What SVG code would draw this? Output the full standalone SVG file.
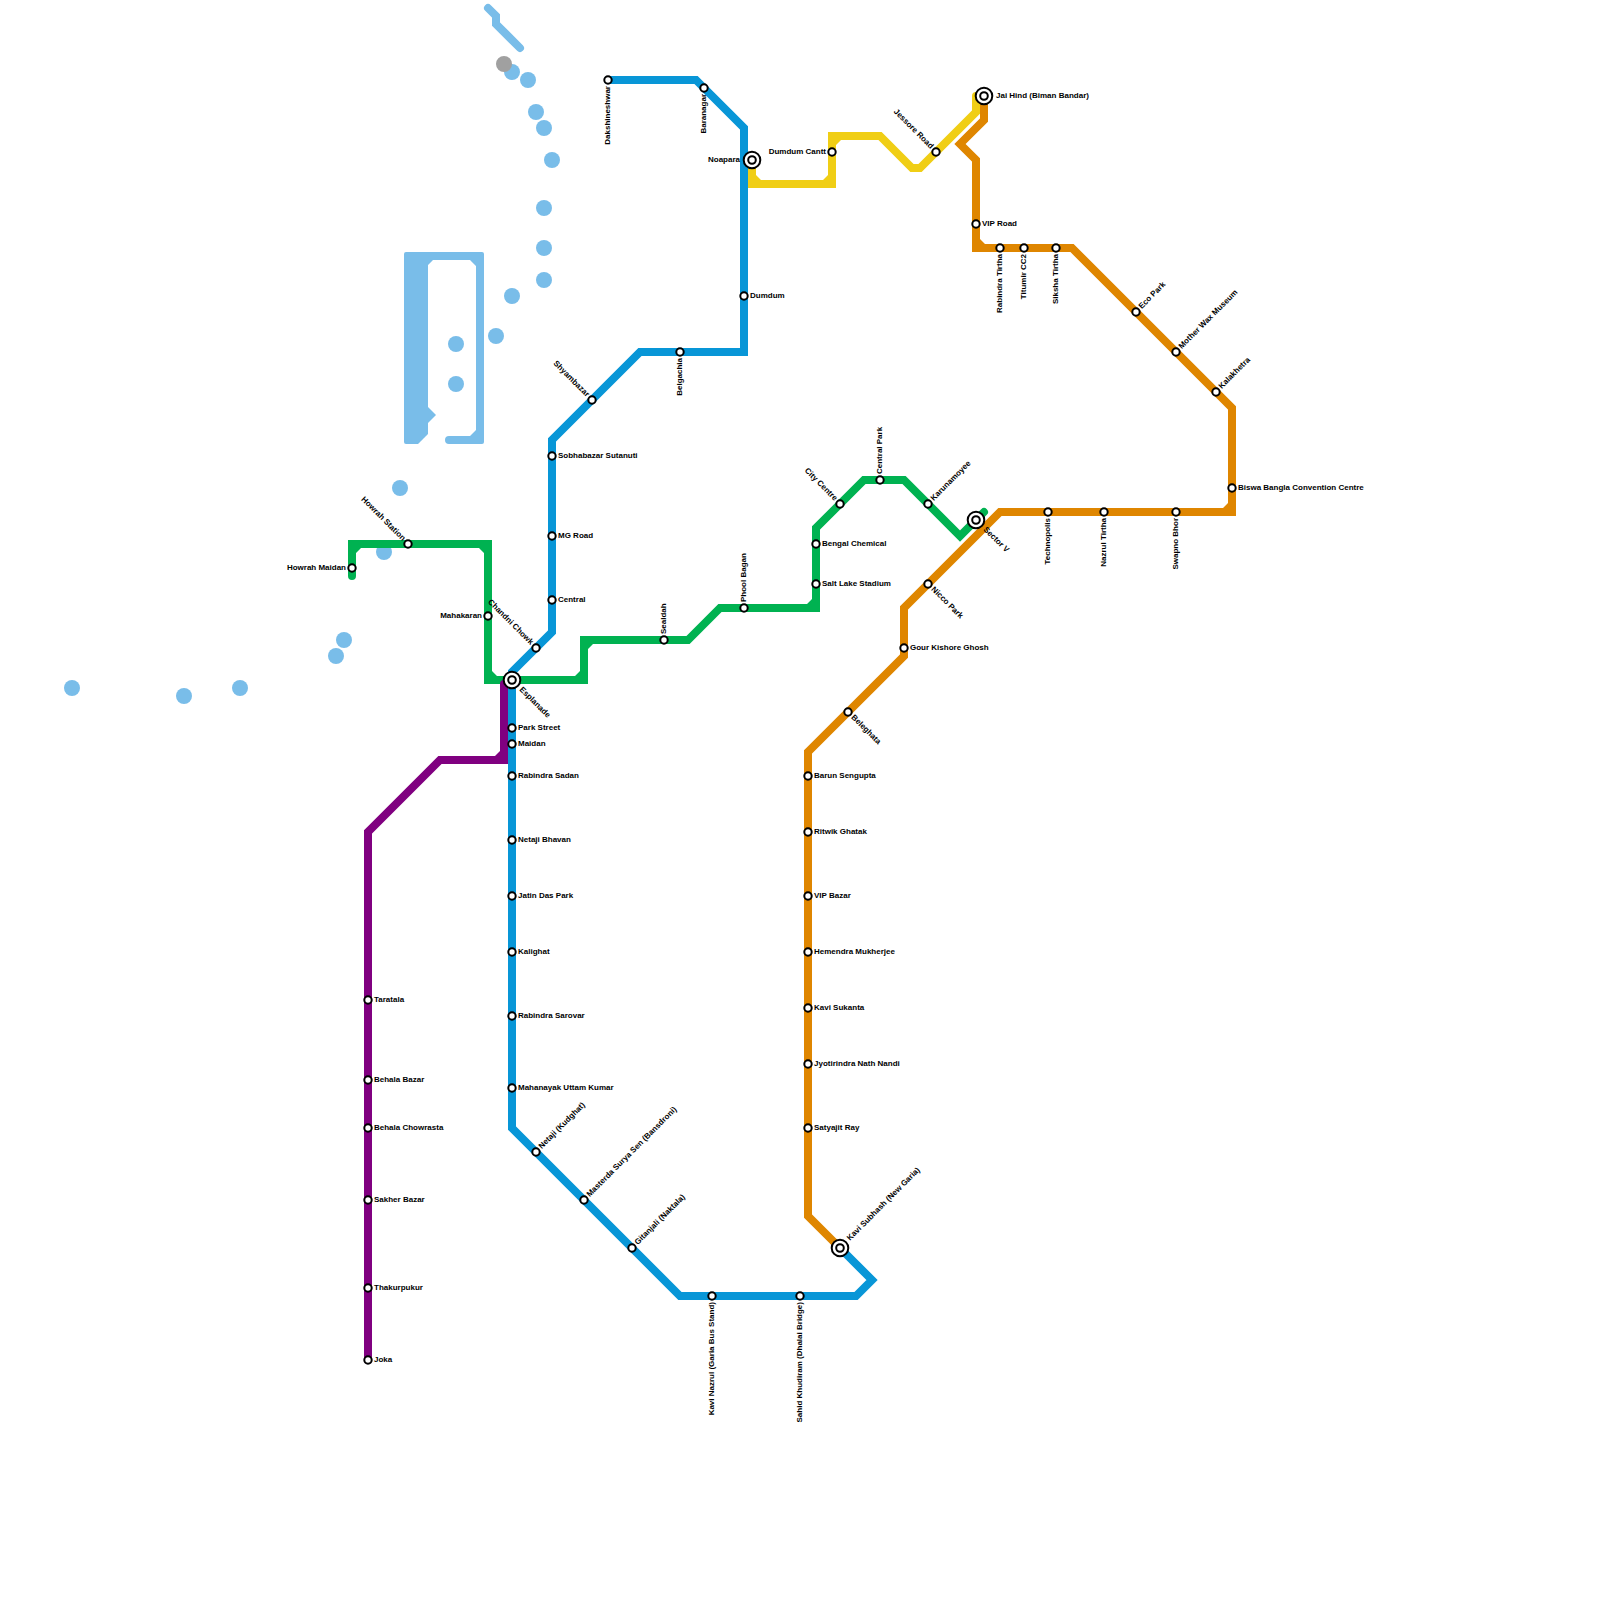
<svg xmlns="http://www.w3.org/2000/svg" width="1600" height="1600" viewBox="0 0 1600 1600">
<style>
.l{fill:none;stroke-width:8;stroke-linecap:round;stroke-linejoin:miter}
.lb{stroke:#79bde9}.gr{stroke:#00b251}.bl{stroke:#0896d7}.pu{stroke:#800080}.or{stroke:#df8600}.ye{stroke:#f0ce15}
.c{fill:#00b251}.cp{fill:#800080}.co{fill:#df8600}.cy{fill:#f0ce15}
.d{fill:#79bde9}
.s{fill:#fff;stroke:#000;stroke-width:2}
text{font-family:"Liberation Sans",Arial,sans-serif;font-size:8px;font-weight:bold;fill:#000}
.e{text-anchor:end}
</style>
<rect width="1600" height="1600" fill="#fff"/>
<g id="water">
<path class="l lb" d="M488 8l8 8v8l24 24"/>
<path class="d" d="M406 252H482Q484 252 484 254V442Q484 444 482 444H449A4 4 0 0 1 449 436H470L476 430V266L470 260H433L428 265V407L436 415L428 423V434L418 444H406Q404 444 404 442V254Q404 252 406 252Z"/>
<g class="d">
<circle cx="512" cy="72" r="8"/><circle cx="528" cy="80" r="8"/><circle cx="536" cy="112" r="8"/><circle cx="544" cy="128" r="8"/><circle cx="552" cy="160" r="8"/><circle cx="544" cy="208" r="8"/><circle cx="544" cy="248" r="8"/><circle cx="544" cy="280" r="8"/><circle cx="512" cy="296" r="8"/><circle cx="496" cy="336" r="8"/><circle cx="456" cy="344" r="8"/><circle cx="456" cy="384" r="8"/><circle cx="400" cy="488" r="8"/><circle cx="384" cy="552" r="8"/><circle cx="344" cy="640" r="8"/><circle cx="336" cy="656" r="8"/><circle cx="72" cy="688" r="8"/><circle cx="184" cy="696" r="8"/><circle cx="240" cy="688" r="8"/>
</g>
<circle cx="504" cy="64" r="8" fill="#a0a0a0"/>
</g>
<g id="connectors">
<path class="l ye" d="M752 160V184H832V136H880L912 168H920L976 112V96"/>
<path class="cy" d="M756 180h5l-5 -5zM828 180h-5l5 -5zM836 140h5l-5 5z"/>
<path class="l gr" d="M352 576V544H488V680H584V640H688L720 608H816V528L864 480H904L960 536L984 512"/>
<path class="c" d="M356 548h5l-5 5zM484 548h-5l5 5zM492 676h5l-5 -5zM580 676h-5l5 -5zM588 644h5l-5 5zM812 604h-5l5 -5z"/>
<path class="l pu" d="M504 684V760H440L368 832V1360"/>
<path class="cp" d="M500 756h-5l5 -5z"/>
<path class="l bl" d="M608 80H696L744 128V352H640L552 440V632L512 672V1128L680 1296H856L872 1280L840 1248"/>
<path class="l or" d="M984 96V120L960 144L976 160V248H1072L1232 408V512H1000L904 608V656L808 752V1216L840 1248"/>
<path class="co" d="M980 244h5l-5 -5zM1228 508h-5l5 -5z"/>
</g>
<g id="n-dakshineshwar"><circle class="s" cx="608" cy="80" r="3.7"/><text class="e" transform="translate(608 86) rotate(-90)" y="2">Dakshineshwar</text></g>
<g id="n-baranagar"><circle class="s" cx="704" cy="88" r="3.7"/><text class="e" transform="translate(704 94) rotate(-90)" y="2">Baranagar</text></g>
<g id="n-noapara"><circle class="s" cx="752" cy="160" r="8.3"/><circle class="s" cx="752" cy="160" r="3.8"/><text class="e" x="740" y="161.5">Noapara</text></g>
<g id="n-dumdum"><circle class="s" cx="744" cy="296" r="3.7"/><text x="750" y="297.5">Dumdum</text></g>
<g id="n-belgachia"><circle class="s" cx="680" cy="352" r="3.7"/><text class="e" transform="translate(680 358) rotate(-90)" y="2">Belgachia</text></g>
<g id="n-shyambazar"><circle class="s" cx="592" cy="400" r="3.7"/><text class="e" transform="translate(592 400) rotate(45)" x="-6" y="2">Shyambazar</text></g>
<g id="n-sobhabazar"><circle class="s" cx="552" cy="456" r="3.7"/><text x="558" y="457.5">Sobhabazar Sutanuti</text></g>
<g id="n-mgroad"><circle class="s" cx="552" cy="536" r="3.7"/><text x="558" y="537.5">MG Road</text></g>
<g id="n-central"><circle class="s" cx="552" cy="600" r="3.7"/><text x="558" y="601.5">Central</text></g>
<g id="n-chandni"><circle class="s" cx="536" cy="648" r="3.7"/><text class="e" transform="translate(536 648) rotate(45)" x="-6" y="2">Chandni Chowk</text></g>
<g id="n-parkstreet"><circle class="s" cx="512" cy="728" r="3.7"/><text x="518" y="729.5">Park Street</text></g>
<g id="n-maidan"><circle class="s" cx="512" cy="744" r="3.7"/><text x="518" y="745.5">Maidan</text></g>
<g id="n-rabindrasadan"><circle class="s" cx="512" cy="776" r="3.7"/><text x="518" y="777.5">Rabindra Sadan</text></g>
<g id="n-netajibhavan"><circle class="s" cx="512" cy="840" r="3.7"/><text x="518" y="841.5">Netaji Bhavan</text></g>
<g id="n-jatindas"><circle class="s" cx="512" cy="896" r="3.7"/><text x="518" y="897.5">Jatin Das Park</text></g>
<g id="n-kalighat"><circle class="s" cx="512" cy="952" r="3.7"/><text x="518" y="953.5">Kalighat</text></g>
<g id="n-rabindrasarovar"><circle class="s" cx="512" cy="1016" r="3.7"/><text x="518" y="1017.5">Rabindra Sarovar</text></g>
<g id="n-mahanayak"><circle class="s" cx="512" cy="1088" r="3.7"/><text x="518" y="1089.5">Mahanayak Uttam Kumar</text></g>
<g id="n-netaji"><circle class="s" cx="536" cy="1152" r="3.7"/><text transform="translate(536 1152) rotate(-45)" x="6" y="2">Netaji (Kudghat)</text></g>
<g id="n-masterda"><circle class="s" cx="584" cy="1200" r="3.7"/><text transform="translate(584 1200) rotate(-45)" x="6" y="2">Masterda Surya Sen (Bansdroni)</text></g>
<g id="n-gitanjali"><circle class="s" cx="632" cy="1248" r="3.7"/><text transform="translate(632 1248) rotate(-45)" x="6" y="2">Gitanjali (Naktala)</text></g>
<g id="n-kavinazrul"><circle class="s" cx="712" cy="1296" r="3.7"/><text class="e" transform="translate(712 1302) rotate(-90)" y="2">Kavi Nazrul (Garia Bus Stand)</text></g>
<g id="n-sahid"><circle class="s" cx="800" cy="1296" r="3.7"/><text class="e" transform="translate(800 1302) rotate(-90)" y="2">Sahid Khudiram (Dhalai Bridge)</text></g>
<g id="n-kavisubhash"><circle class="s" cx="840" cy="1248" r="8.3"/><circle class="s" cx="840" cy="1248" r="3.8"/><text transform="translate(840 1248) rotate(-45)" x="12" y="2">Kavi Subhash (New Garia)</text></g>
<g id="n-howrahmaidan"><circle class="s" cx="352" cy="568" r="3.7"/><text class="e" x="346" y="569.5">Howrah Maidan</text></g>
<g id="n-howrahstation"><circle class="s" cx="408" cy="544" r="3.7"/><text class="e" transform="translate(408 544) rotate(45)" x="-6" y="2">Howrah Station</text></g>
<g id="n-mahakaran"><circle class="s" cx="488" cy="616" r="3.7"/><text class="e" x="482" y="617.5">Mahakaran</text></g>
<g id="n-esplanade"><circle class="s" cx="512" cy="680" r="8.3"/><circle class="s" cx="512" cy="680" r="3.8"/><text transform="translate(512 680) rotate(45)" x="12" y="2">Esplanade</text></g>
<g id="n-sealdah"><circle class="s" cx="664" cy="640" r="3.7"/><text transform="translate(664 634) rotate(-90)" y="2">Sealdah</text></g>
<g id="n-phoolbagan"><circle class="s" cx="744" cy="608" r="3.7"/><text transform="translate(744 602) rotate(-90)" y="2">Phool Bagan</text></g>
<g id="n-saltlake"><circle class="s" cx="816" cy="584" r="3.7"/><text x="822" y="585.5">Salt Lake Stadium</text></g>
<g id="n-bengal"><circle class="s" cx="816" cy="544" r="3.7"/><text x="822" y="545.5">Bengal Chemical</text></g>
<g id="n-citycentre"><circle class="s" cx="840" cy="504" r="3.7"/><text class="e" transform="translate(840 504) rotate(45)" x="-6" y="2">City Centre</text></g>
<g id="n-centralpark"><circle class="s" cx="880" cy="480" r="3.7"/><text transform="translate(880 474) rotate(-90)" y="2">Central Park</text></g>
<g id="n-karunamoyee"><circle class="s" cx="928" cy="504" r="3.7"/><text transform="translate(928 504) rotate(-45)" x="6" y="2">Karunamoyee</text></g>
<g id="n-sectorv"><circle class="s" cx="976" cy="520" r="8.3"/><circle class="s" cx="976" cy="520" r="3.8"/><text transform="translate(976 520) rotate(45)" x="12" y="2">Sector V</text></g>
<g id="n-dumdumcantt"><circle class="s" cx="832" cy="152" r="3.7"/><text class="e" x="826" y="153.5">Dumdum Cantt</text></g>
<g id="n-jessore"><circle class="s" cx="936" cy="152" r="3.7"/><text class="e" transform="translate(936 152) rotate(45)" x="-6" y="2">Jessore Road</text></g>
<g id="n-jaihind"><circle class="s" cx="984" cy="96" r="8.3"/><circle class="s" cx="984" cy="96" r="3.8"/><text x="996" y="97.5">Jai Hind (Biman Bandar)</text></g>
<g id="n-viproad"><circle class="s" cx="976" cy="224" r="3.7"/><text x="982" y="225.5">VIP Road</text></g>
<g id="n-rabindratirtha"><circle class="s" cx="1000" cy="248" r="3.7"/><text class="e" transform="translate(1000 254) rotate(-90)" y="2">Rabindra Tirtha</text></g>
<g id="n-titumir"><circle class="s" cx="1024" cy="248" r="3.7"/><text class="e" transform="translate(1024 254) rotate(-90)" y="2">Titumir CC2</text></g>
<g id="n-siksha"><circle class="s" cx="1056" cy="248" r="3.7"/><text class="e" transform="translate(1056 254) rotate(-90)" y="2">Siksha Tirtha</text></g>
<g id="n-ecopark"><circle class="s" cx="1136" cy="312" r="3.7"/><text transform="translate(1136 312) rotate(-45)" x="6" y="2">Eco Park</text></g>
<g id="n-motherwax"><circle class="s" cx="1176" cy="352" r="3.7"/><text transform="translate(1176 352) rotate(-45)" x="6" y="2">Mother Wax Museum</text></g>
<g id="n-kalakhetra"><circle class="s" cx="1216" cy="392" r="3.7"/><text transform="translate(1216 392) rotate(-45)" x="6" y="2">Kalakhetra</text></g>
<g id="n-biswabangla"><circle class="s" cx="1232" cy="488" r="3.7"/><text x="1238" y="489.5">Biswa Bangla Convention Centre</text></g>
<g id="n-swapnobhor"><circle class="s" cx="1176" cy="512" r="3.7"/><text class="e" transform="translate(1176 518) rotate(-90)" y="2">Swapno Bhor</text></g>
<g id="n-nazrultirtha"><circle class="s" cx="1104" cy="512" r="3.7"/><text class="e" transform="translate(1104 518) rotate(-90)" y="2">Nazrul Tirtha</text></g>
<g id="n-technopolis"><circle class="s" cx="1048" cy="512" r="3.7"/><text class="e" transform="translate(1048 518) rotate(-90)" y="2">Technopolis</text></g>
<g id="n-nicco"><circle class="s" cx="928" cy="584" r="3.7"/><text transform="translate(928 584) rotate(45)" x="6" y="2">Nicco Park</text></g>
<g id="n-gourkishore"><circle class="s" cx="904" cy="648" r="3.7"/><text x="910" y="649.5">Gour Kishore Ghosh</text></g>
<g id="n-beleghata"><circle class="s" cx="848" cy="712" r="3.7"/><text transform="translate(848 712) rotate(45)" x="6" y="2">Beleghata</text></g>
<g id="n-barun"><circle class="s" cx="808" cy="776" r="3.7"/><text x="814" y="777.5">Barun Sengupta</text></g>
<g id="n-ritwik"><circle class="s" cx="808" cy="832" r="3.7"/><text x="814" y="833.5">Ritwik Ghatak</text></g>
<g id="n-vipbazar"><circle class="s" cx="808" cy="896" r="3.7"/><text x="814" y="897.5">VIP Bazar</text></g>
<g id="n-hemendra"><circle class="s" cx="808" cy="952" r="3.7"/><text x="814" y="953.5">Hemendra Mukherjee</text></g>
<g id="n-kavisukanta"><circle class="s" cx="808" cy="1008" r="3.7"/><text x="814" y="1009.5">Kavi Sukanta</text></g>
<g id="n-jyotirindra"><circle class="s" cx="808" cy="1064" r="3.7"/><text x="814" y="1065.5">Jyotirindra Nath Nandi</text></g>
<g id="n-satyajit"><circle class="s" cx="808" cy="1128" r="3.7"/><text x="814" y="1129.5">Satyajit Ray</text></g>
<g id="n-taratala"><circle class="s" cx="368" cy="1000" r="3.7"/><text x="374" y="1001.5">Taratala</text></g>
<g id="n-behalabazar"><circle class="s" cx="368" cy="1080" r="3.7"/><text x="374" y="1081.5">Behala Bazar</text></g>
<g id="n-behalachowrasta"><circle class="s" cx="368" cy="1128" r="3.7"/><text x="374" y="1129.5">Behala Chowrasta</text></g>
<g id="n-sakher"><circle class="s" cx="368" cy="1200" r="3.7"/><text x="374" y="1201.5">Sakher Bazar</text></g>
<g id="n-thakurpukur"><circle class="s" cx="368" cy="1288" r="3.7"/><text x="374" y="1289.5">Thakurpukur</text></g>
<g id="n-joka"><circle class="s" cx="368" cy="1360" r="3.7"/><text x="374" y="1361.5">Joka</text></g>
</svg>
